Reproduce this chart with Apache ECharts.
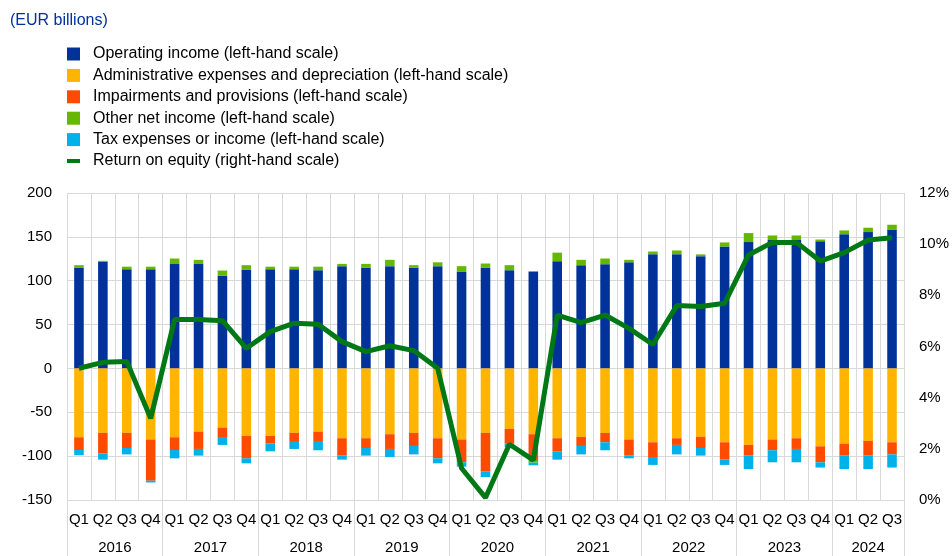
<!DOCTYPE html>
<html>
<head>
<meta charset="utf-8">
<script src="https://cdn.jsdelivr.net/npm/echarts@6/dist/echarts.min.js"></script>
<style>
  html, body { margin: 0; padding: 0; background: #fff; }
  #chart { width: 952px; height: 556px; }
</style>
</head>
<body>
<div id="chart"></div>
<script>
// 2016 Q1 .. 2024 Q3
const years = ['2016', '2017', '2018', '2019', '2020', '2021', '2022', '2023', '2024']
const quarters = []
years.forEach((y, i) => {
  const n = i === years.length - 1 ? 3 : 4
  for (let q = 1; q <= n; q++) quarters.push('Q' + q)
})

// EUR billions
const operatingIncome = [114.7, 121.5, 113, 113, 119, 119, 105.5, 112.4, 113, 113, 112, 116.6, 114.7, 116.6, 114.7, 116.6, 110, 114.7, 112, 110.5, 122.3, 117.7, 118.9, 121, 130.3, 130.3, 128, 139, 144, 146.3, 146.3, 145, 153, 155.4, 158.5]
const adminExpenses = [-78.5, -73.5, -73.5, -81, -78.5, -72, -67.4, -77, -77, -73.5, -72, -79.6, -79.6, -75, -73.5, -79.6, -81, -73.5, -69, -75, -79.6, -78, -73.5, -81, -84.2, -79.6, -78, -84.2, -87.2, -81, -79.6, -88.8, -85.7, -82.7, -84.2]
const impairments = [-14.5, -23.3, -17.2, -47, -14.5, -19.8, -11.8, -25.5, -8.7, -10.3, -11.8, -19.8, -11.1, -16.8, -14.9, -22.9, -26, -44.2, -16.7, -29.4, -15.3, -10.4, -10.7, -18.4, -16.8, -7.6, -12.7, -19.8, -12.2, -12.3, -12.2, -18.2, -13.7, -16.7, -13.8]
const otherNetIncome = [3, 1.2, 3, 3, 6.3, 4.8, 6.1, 5.3, 3, 3, 4, 2.6, 4.5, 7.2, 3, 4.4, 6.6, 4.9, 5.7, -3, 9.7, 6.1, 6.4, 2.8, 3, 4.2, 2, 4.6, 10.3, 5.3, 5.3, 2, 4.3, 5, 5.3]
const taxExpenses = [-6, -7.2, -7.3, -2, -9.5, -7.6, -8, -5.7, -8.8, -8, -9.5, -4.6, -8.7, -9.2, -9.6, -5.7, -5, -6.1, -4, -3, -9.1, -9.6, -9.1, -3.1, -9, -10.8, -8.7, -6, -15.3, -13.7, -15.2, -6, -15.3, -15.3, -15]
// percent
const returnOnEquity = [5.15, 5.38, 5.41, 3.19, 7.06, 7.06, 7.01, 5.93, 6.58, 6.91, 6.87, 6.19, 5.8, 6.03, 5.84, 5.15, 1.24, 0.09, 2.18, 1.56, 7.23, 6.93, 7.23, 6.71, 6.08, 7.6, 7.56, 7.69, 9.58, 10.07, 10.07, 9.34, 9.67, 10.16, 10.25]

const leftTicks = [-150, -100, -50, 0, 50, 100, 150, 200]
const rightTicks = [0, 2, 4, 6, 8, 10, 12]

// year boundaries and year label positions on the helper value axis
const yearEdges = [0]
const yearMids = []
years.forEach((y, i) => {
  const start = i * 4
  const end = Math.min(start + 4, quarters.length)
  yearEdges.push(end)
  yearMids.push((start + end) / 2)
})

const font = 'Liberation Sans, Arial, sans-serif'
const gridColor = '#d9d9d9'

const chart = echarts.init(document.getElementById('chart'))

function barSeries(name, data, color) {
  return {
    name: name,
    type: 'bar',
    stack: 'pl',
    barWidth: '40%',
    data: data,
    itemStyle: { color: color },
    animation: false
  }
}

chart.setOption({
  textStyle: { fontFamily: font },
  title: {
    text: '(EUR billions)',
    left: 5,
    top: 8,
    textStyle: { fontSize: 16, fontWeight: 'normal', color: '#003299', fontFamily: font }
  },
  legend: {
    orient: 'vertical',
    left: 62,
    top: 41,
    itemWidth: 13,
    itemHeight: 13,
    itemGap: 5.4,
    textStyle: { fontSize: 16, color: '#000', padding: [0, 0, 0, 8], fontFamily: font },
    data: [
      { name: 'Operating income (left-hand scale)', icon: 'rect' },
      { name: 'Administrative expenses and depreciation (left-hand scale)', icon: 'rect' },
      { name: 'Impairments and provisions (left-hand scale)', icon: 'rect' },
      { name: 'Other net income (left-hand scale)', icon: 'rect' },
      { name: 'Tax expenses or income (left-hand scale)', icon: 'rect' },
      { name: 'Return on equity (right-hand scale)', icon: 'path://M0,5H13V9H0Z' }
    ]
  },
  grid: {
    left: 67,
    right: 47,
    top: 193,
    bottom: 56,
    containLabel: false
  },
  xAxis: [{
    type: 'category',
    data: quarters,
    position: 'bottom',
    boundaryGap: true,
    axisLine: { show: false },
    axisTick: { show: false },
    axisLabel: { fontSize: 15, color: '#000', margin: 12, interval: 0, fontFamily: font },
    splitLine: { show: true, interval: 0, lineStyle: { color: gridColor, width: 1 } }
  }, {
    type: 'value',
    min: 0,
    max: quarters.length,
    position: 'bottom',
    axisLine: { show: false },
    splitLine: { show: false },
    axisTick: {
      show: true,
      customValues: yearEdges,
      length: 56,
      lineStyle: { color: gridColor, width: 1 }
    },
    axisLabel: {
      customValues: yearMids,
      fontSize: 15,
      color: '#000',
      margin: 40,
      fontFamily: font,
      formatter: (v) => years[yearMids.indexOf(v)]
    }
  }],
  yAxis: [{
    type: 'value',
    min: leftTicks[0],
    max: leftTicks[leftTicks.length - 1],
    interval: 50,
    axisLine: { show: false },
    axisTick: { show: false },
    axisLabel: { fontSize: 15, color: '#000', margin: 15, fontFamily: font },
    splitLine: { show: true, lineStyle: { color: gridColor, width: 1 } }
  }, {
    type: 'value',
    min: rightTicks[0],
    max: rightTicks[rightTicks.length - 1],
    interval: 2,
    axisLine: { show: false },
    axisTick: { show: false },
    axisLabel: { fontSize: 15, color: '#000', margin: 15, fontFamily: font, formatter: '{value}%' },
    splitLine: { show: false }
  }],
  series: [
    barSeries('Operating income (left-hand scale)', operatingIncome, '#003299'),
    barSeries('Administrative expenses and depreciation (left-hand scale)', adminExpenses, '#ffb400'),
    barSeries('Impairments and provisions (left-hand scale)', impairments, '#ff4b00'),
    barSeries('Other net income (left-hand scale)', otherNetIncome, '#65b800'),
    barSeries('Tax expenses or income (left-hand scale)', taxExpenses, '#00b1ea'),
    {
      name: 'Return on equity (right-hand scale)',
      type: 'line',
      yAxisIndex: 1,
      data: returnOnEquity,
      symbol: 'none',
      z: 5,
      itemStyle: { color: '#007816' },
      lineStyle: { color: '#007816', width: 5 },
      animation: false
    }
  ]
})
</script>
</body>
</html>
